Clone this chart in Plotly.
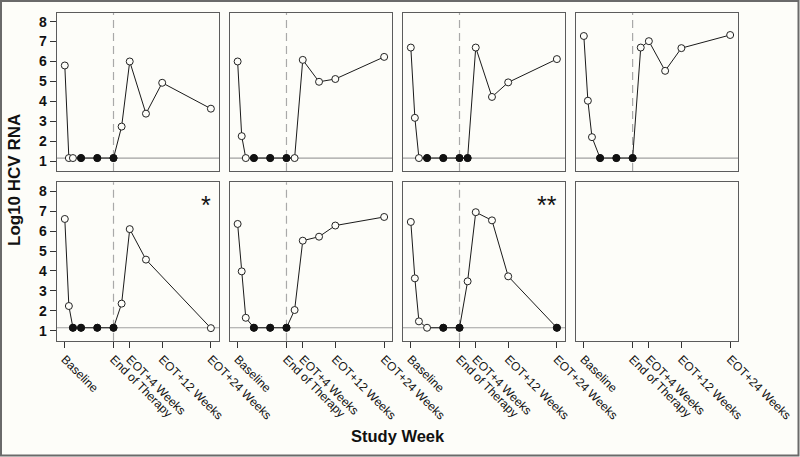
import plotly.graph_objects as go

# ---------------- data ----------------
weeks = [0, 1, 2, 4, 8, 12, 14, 16, 20, 24, 36]
tick_weeks = [0, 12, 16, 24, 36]
tick_labels = ["Baseline", "End of Therapy", "EOT+4 Weeks", "EOT+12 Weeks", "EOT+24 Weeks"]
y_ticks = [1, 2, 3, 4, 5, 6, 7, 8]
lloq = 1.15
eot_week = 12

patient1 = [5.8, 1.15, 1.15, 1.15, 1.15, 1.15, 2.73, 6.0, 3.38, 4.93, 3.63]
patient2 = [6.0, 2.25, 1.15, 1.15, 1.15, 1.15, 1.15, 6.08, 4.98, 5.12, 6.23]
patient3 = [6.7, 3.17, 1.15, 1.15, 1.15, 1.15, 1.15, 6.7, 4.22, 4.95, 6.12]
patient4 = [7.28, 4.03, 2.2, 1.15, 1.15, 1.15, 6.7, 7.02, 5.53, 6.67, 7.33]
patient5 = [6.61, 2.24, 1.15, 1.15, 1.15, 1.15, 2.36, 6.1, 4.57, None, 1.13]
patient6 = [6.36, 3.98, 1.65, 1.15, 1.15, 1.15, 2.04, 5.52, 5.72, 6.28, 6.71]
patient7 = [6.46, 3.63, 1.47, 1.15, 1.15, 1.15, 3.48, 6.95, 6.54, 3.73, 1.15]

# 1 = target not detected (filled marker)
not_detected1 = [0, 0, 0, 1, 1, 1, 0, 0, 0, 0, 0]
not_detected2 = [0, 0, 0, 1, 1, 1, 0, 0, 0, 0, 0]
not_detected3 = [0, 0, 0, 1, 1, 1, 1, 0, 0, 0, 0]
not_detected4 = [0, 0, 0, 1, 1, 1, 0, 0, 0, 0, 0]
not_detected5 = [0, 0, 1, 1, 1, 1, 0, 0, 0, 0, 0]
not_detected6 = [0, 0, 0, 1, 1, 1, 0, 0, 0, 0, 0]
not_detected7 = [0, 0, 0, 0, 1, 1, 0, 0, 0, 0, 1]

panel_labels = ["", "", "", "", "*", "", "**", ""]

patients = [patient1, patient2, patient3, patient4, patient5, patient6, patient7, None]
not_detected = [not_detected1, not_detected2, not_detected3, not_detected4,
                not_detected5, not_detected6, not_detected7, None]

# ---------------- layout geometry (pixels) ----------------
W, H = 800, 457
col_px = [(56.7, 219.0), (229.5, 392.3), (402.7, 565.0), (575.7, 738.3)]
row_px = [(12.7, 171.0), (182.3, 340.7)]

BG = "#fdfdf9"
FRAME = "#5c5c5c"
FONT = "Liberation Sans, Arial, sans-serif"

fig = go.Figure()
layout = dict(
    width=W, height=H,
    margin=dict(l=0, r=0, t=0, b=0, autoexpand=False),
    paper_bgcolor=BG, plot_bgcolor=BG,
    showlegend=False,
    font=dict(family=FONT, color="#111"),
)
shapes = []
annotations = []

for i in range(8):
    r, c = divmod(i, 4)
    n = i + 1
    xa = "xaxis" if n == 1 else f"xaxis{n}"
    ya = "yaxis" if n == 1 else f"yaxis{n}"
    xr = "x" if n == 1 else f"x{n}"
    yr = "y" if n == 1 else f"y{n}"
    x0, x1 = col_px[c]
    y0, y1 = row_px[r]
    layout[xa] = dict(
        domain=[x0 / W, x1 / W], anchor=yr, range=[-2, 38],
        automargin=False,
        showgrid=False, zeroline=False, showline=True, mirror=True,
        linecolor=FRAME, linewidth=1,
        tickmode="array", tickvals=tick_weeks,
        ticktext=tick_labels,
        showticklabels=(r == 1),
        ticks="outside" if r == 1 else "", ticklen=6, tickcolor="#333",
        tickangle=45, tickfont=dict(size=12, family=FONT, color="#111"),
    )
    layout[ya] = dict(
        domain=[1 - y1 / H, 1 - y0 / H], anchor=xr, range=[0.5, 8.45],
        automargin=False,
        showgrid=False, zeroline=False, showline=True, mirror=True,
        linecolor=FRAME, linewidth=1,
        tickmode="array", tickvals=y_ticks,
        showticklabels=(c == 0),
        ticks="outside" if c == 0 else "", ticklen=6, tickcolor="#333",
        tickfont=dict(size=14, family=FONT, color="#111", weight="bold"),
    )

    vals = patients[i]
    if vals is None:
        # empty panel: keep the axes frame and ticks visible
        fig.add_trace(go.Scatter(x=[], y=[], xaxis=xr, yaxis=yr, mode="markers",
                                 hoverinfo="skip"))
        continue

    shapes.append(dict(type="line", xref=xr, yref=f"{yr} domain", x0=eot_week, x1=eot_week,
                       y0=0, y1=1, line=dict(color="#a9a9a9", width=1.2, dash="8px,5px"),
                       layer="below"))
    shapes.append(dict(type="line", xref=f"{xr} domain", yref=yr, x0=0, x1=1,
                       y0=lloq, y1=lloq, line=dict(color="#a0a0a0", width=1.2),
                       layer="below"))

    fig.add_trace(go.Scatter(
        x=weeks, y=vals, xaxis=xr, yaxis=yr, mode="lines+markers",
        connectgaps=True,
        line=dict(color="#1a1a1a", width=1),
        marker=dict(symbol="circle", size=7, color=BG,
                    line=dict(color="#222", width=1)),
        hoverinfo="x+y",
    ))
    nd = not_detected[i]
    fx = [w for w, v, f in zip(weeks, vals, nd) if f and v is not None]
    fy = [v for w, v, f in zip(weeks, vals, nd) if f and v is not None]
    fig.add_trace(go.Scatter(
        x=fx, y=fy, xaxis=xr, yaxis=yr, mode="markers",
        marker=dict(symbol="circle", size=7, color="#111",
                    line=dict(color="#111", width=1)),
        hoverinfo="x+y",
    ))
    if panel_labels[i]:
        annotations.append(dict(
            text=panel_labels[i], xref=xr, yref=yr, x=36.5, y=7.3,
            xanchor="right", yanchor="middle", showarrow=False,
            font=dict(size=25, family=FONT, color="#111"),
        ))

annotations.append(dict(
    text="<b>Log10 HCV RNA</b>", xref="paper", yref="paper",
    x=14 / W, y=1 - 180 / H, textangle=-90, showarrow=False,
    xanchor="center", yanchor="middle",
    font=dict(size=17, family=FONT, color="#111"),
))
annotations.append(dict(
    text="<b>Study Week</b>", xref="paper", yref="paper",
    x=398 / W, y=1 - 436 / H, showarrow=False,
    xanchor="center", yanchor="middle",
    font=dict(size=16.5, family=FONT, color="#111"),
))

# outer frame of the figure
shapes.append(dict(type="rect", xref="paper", yref="paper",
                   x0=1 / W, x1=1 - 1.5 / W, y0=1.5 / H, y1=1 - 1 / H,
                   line=dict(color="#6a6a6a", width=2), layer="below"))

layout["shapes"] = shapes
layout["annotations"] = annotations
fig.update_layout(**layout)

fig.write_html("out.html", config={"displayModeBar": False},
               post_script="document.body.style.margin='0';")
